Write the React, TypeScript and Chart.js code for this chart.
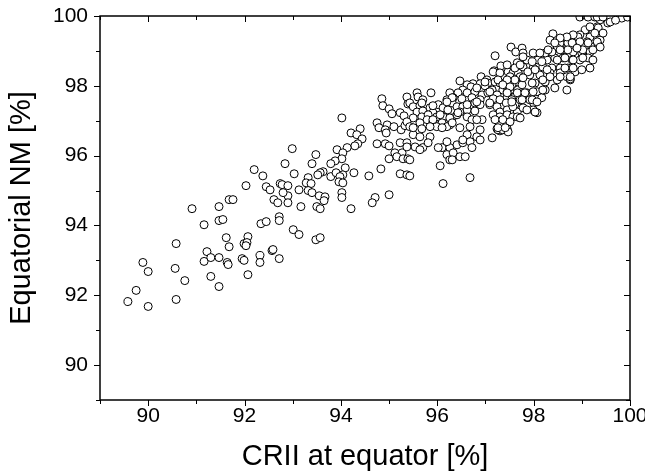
import { useEffect, useRef } from 'react';
import { Chart, registerables } from 'chart.js';

Chart.register(...registerables);

const X_MIN = 89;
const X_MAX = 100;
const Y_MIN = 89;
const Y_MAX = 100;
const xTickLabels = ['90', '92', '94', '96', '98', '100'];
const yTickLabels = ['90', '92', '94', '96', '98', '100'];
const xTitle = 'CRII at equator [%]';
const yTitle = 'Equatorial NM [%]';

// [CRII at equator %, Equatorial NM %]
const pointsLow: [number, number][] = [
  [89.58, 91.82], [89.75, 92.14], [89.89, 92.94], [90.0, 92.68], [90.0, 91.68], [90.56, 92.77], [90.58, 91.88], [90.76, 92.42], [90.58, 93.48], [90.91, 94.48],
  [91.16, 92.97], [91.22, 93.25], [91.30, 93.08], [91.47, 93.08], [91.64, 92.94], [91.66, 92.88], [91.95, 93.05], [91.99, 93.0], [92.32, 93.14], [92.32, 92.94],
  [92.57, 93.28], [92.59, 93.31], [92.72, 93.05], [91.30, 92.54], [91.47, 92.25], [92.07, 92.59],
  [91.62, 93.65], [91.68, 93.39], [92.07, 93.68], [91.99, 93.48], [92.05, 93.51], [92.03, 93.42],
  [91.16, 94.02], [91.47, 94.14], [91.55, 94.17], [92.34, 94.05], [92.45, 94.11], [92.72, 94.25], [92.72, 94.14],
  [91.47, 94.54], [91.68, 94.74], [91.76, 94.74], [92.61, 94.74], [92.20, 95.60], [92.38, 95.42], [92.03, 95.14], [92.45, 95.11], [92.53, 95.02], [92.74, 95.20],
];

const pointsMid: [number, number][] = [
  [94.85, 97.63], [94.87, 97.43], [95.37, 97.68], [95.39, 97.48], [95.00, 97.34], [95.06, 97.20], [95.23, 97.23], [95.31, 97.14], [94.75, 96.94], [94.96, 96.88],
  [95.10, 96.83], [95.25, 96.74], [95.33, 96.86], [94.79, 96.80], [94.92, 96.74], [94.94, 96.65], [95.23, 96.37], [94.75, 96.34], [94.92, 96.34], [95.00, 96.28],
  [95.12, 96.08], [95.27, 96.08], [95.16, 95.97], [95.29, 95.91], [95.00, 95.91], [95.39, 95.91], [94.83, 95.62], [95.23, 95.48], [95.37, 95.45], [95.00, 94.88],
  [94.71, 94.80], [94.65, 94.65], [94.58, 95.42],
  [94.02, 97.08], [94.21, 96.65], [94.40, 96.77], [94.33, 96.60], [94.44, 96.48], [94.35, 96.34], [94.29, 96.28], [94.13, 96.23], [93.92, 96.17], [94.04, 96.08],
  [94.02, 95.91], [93.88, 95.85], [93.79, 95.77], [93.48, 96.03], [93.40, 95.77], [92.99, 96.20], [92.84, 95.77], [93.03, 95.48], [93.63, 95.54], [93.57, 95.51],
  [93.52, 95.45], [93.79, 95.40], [93.90, 95.51], [94.09, 95.65], [94.04, 95.45], [93.98, 95.40], [94.27, 95.51], [93.96, 95.25], [94.04, 95.22], [93.32, 95.37],
  [93.28, 95.22], [93.38, 95.20], [93.13, 95.02], [93.32, 95.00], [93.40, 94.94], [93.55, 94.85], [93.67, 94.82], [93.65, 94.71], [94.02, 94.94], [94.02, 94.80],
  [94.21, 94.48], [93.50, 94.54], [93.57, 94.48], [93.17, 94.54], [92.90, 94.85], [92.90, 94.65], [92.80, 94.94], [92.78, 95.17], [92.90, 95.14], [92.69, 94.65],
  [93.01, 93.88], [93.13, 93.74], [93.48, 93.59], [93.57, 93.65],
];

const pointsUpper: [number, number][] = [
  [97.53, 99.11], [97.63, 98.97], [97.20, 98.86],
  [97.66, 98.66], [97.32, 98.57], [97.18, 98.43], [97.16, 98.40], [97.30, 98.37], [97.47, 98.40], [97.57, 98.37], [97.68, 98.37], [96.91, 98.26], [96.47, 98.14],
  [97.03, 98.17], [96.74, 98.06], [96.89, 98.06], [97.05, 98.08], [97.20, 98.11], [97.30, 98.08], [97.43, 98.11], [97.55, 98.08], [97.66, 98.11], [96.62, 98.03],
  [96.70, 97.97], [96.99, 98.00], [97.14, 97.88], [97.36, 97.88], [97.51, 97.88], [97.66, 97.88], [96.53, 97.88],
  [95.58, 97.80], [95.60, 97.68], [95.87, 97.80], [96.26, 97.80], [96.43, 97.80], [96.62, 97.80], [96.78, 97.83], [96.93, 97.74], [97.05, 97.80], [97.24, 97.74],
  [97.45, 97.68], [97.61, 97.68], [95.70, 97.60], [96.20, 97.60], [96.33, 97.66], [96.51, 97.63], [96.72, 97.66], [96.89, 97.60], [97.16, 97.63], [97.30, 97.60], [97.55, 97.60],
  [95.43, 97.51], [95.50, 97.40], [95.64, 97.43], [95.85, 97.37], [96.02, 97.46], [96.12, 97.37], [96.31, 97.51], [96.41, 97.40], [96.53, 97.40], [96.72, 97.46],
  [96.89, 97.46], [97.09, 97.46], [97.24, 97.40], [97.43, 97.51], [97.61, 97.46], [95.58, 97.25], [95.70, 97.28], [95.91, 97.23], [96.22, 97.31], [96.47, 97.25],
  [96.62, 97.31], [96.78, 97.28], [97.30, 97.25], [97.45, 97.31], [97.66, 97.25],
  [95.50, 97.08], [95.68, 97.11], [95.81, 97.17], [95.99, 97.11], [96.12, 97.11], [96.31, 97.08], [96.41, 97.17], [96.62, 97.11], [97.16, 97.17], [97.30, 97.11],
  [97.45, 97.17], [97.57, 97.11], [95.37, 96.97], [95.64, 96.94], [95.79, 97.03], [95.91, 96.97], [96.10, 96.94], [96.26, 96.88], [96.72, 97.03], [96.93, 97.03],
  [97.20, 97.03], [97.36, 97.03], [97.51, 96.97],
  [95.43, 96.83], [95.68, 96.77], [95.99, 96.83], [96.20, 96.83], [96.47, 96.80], [96.68, 96.83], [96.89, 96.74], [97.24, 96.77], [97.30, 96.71], [97.45, 96.77],
  [95.50, 96.60], [95.64, 96.54], [95.85, 96.54], [96.62, 96.60], [96.82, 96.54], [97.14, 96.51],
  [95.37, 96.37], [95.54, 96.25], [95.70, 96.23], [96.10, 96.23], [96.26, 96.23], [96.41, 96.31], [96.53, 96.37], [96.68, 96.40], [96.89, 96.45], [96.20, 96.03],
  [96.33, 96.08], [96.72, 96.23], [96.47, 95.97], [96.58, 95.97],
  [95.43, 95.88], [96.06, 95.71], [95.43, 95.42], [96.12, 95.20], [96.68, 95.37],
  [98.0, 97.51], [98.07, 97.23], [97.26, 96.74], [97.36, 96.74], [97.47, 96.68], [96.26, 95.88], [95.81, 96.37], [95.64, 96.17], [96.31, 95.88],
  [95.68, 97.51], [95.91, 97.43], [96.31, 97.66], [96.20, 97.54], [96.82, 97.94], [96.62, 97.46], [96.78, 97.51], [96.43, 97.23], [96.26, 97.08], [96.06, 97.17],
  [95.91, 97.03], [95.50, 96.80], [95.85, 96.83], [96.10, 96.80], [96.31, 96.94], [96.82, 97.03], [96.53, 96.45], [96.20, 96.40], [96.02, 96.23], [95.37, 96.25],
];

const pointsTop: [number, number][] = [
  [99.13, 99.97], [99.27, 99.97], [99.38, 99.89], [99.54, 99.80], [99.32, 99.69], [99.23, 99.54], [99.07, 99.60], [98.96, 99.46], [99.17, 99.40], [99.38, 99.46],
  [99.38, 99.31], [99.11, 99.26], [98.90, 99.31], [98.80, 99.40], [98.40, 99.49], [98.34, 99.31], [98.55, 99.23], [98.71, 99.23], [99.00, 99.17], [99.21, 99.11],
  [99.34, 99.17], [99.17, 98.97], [99.00, 98.94], [98.82, 98.97], [98.65, 99.03], [98.49, 99.08], [98.28, 98.97], [97.99, 98.94], [97.76, 99.08], [97.78, 98.94],
  [97.86, 98.74], [98.09, 98.74], [98.28, 98.74], [98.44, 98.80], [98.61, 98.80], [98.80, 98.74], [98.96, 98.74], [99.13, 98.80], [99.23, 98.74], [97.45, 98.60],
  [97.61, 98.51], [97.78, 98.54], [97.99, 98.51], [98.19, 98.54], [98.38, 98.51], [98.55, 98.51], [98.71, 98.51], [98.86, 98.40], [99.00, 98.46], [97.51, 98.26],
  [97.72, 98.26], [97.92, 98.31], [98.13, 98.31], [98.34, 98.37], [98.55, 98.37], [98.69, 98.26], [98.76, 98.17], [98.49, 98.17], [98.24, 98.11], [98.03, 98.08],
  [97.76, 98.03], [97.55, 98.03], [97.45, 97.83], [97.66, 97.80], [97.86, 97.80], [98.07, 97.83], [98.17, 97.66], [97.92, 97.60], [97.72, 97.60], [97.57, 97.40],
  [97.78, 97.37], [97.99, 97.31], [97.66, 97.11], [97.72, 97.08],
  [98.69, 97.88], [98.44, 97.94], [98.76, 98.20], [98.24, 97.88],
  [98.96, 99.97], [99.32, 99.97], [99.44, 99.97], [99.59, 99.83], [99.83, 99.94], [99.17, 99.69], [99.34, 99.66], [99.44, 99.51], [99.27, 99.51], [98.92, 99.40],
  [98.82, 99.46], [98.69, 99.40], [98.55, 99.37], [98.44, 99.23], [98.80, 99.23], [98.96, 99.26], [99.13, 99.23], [99.32, 99.26], [99.38, 99.11], [99.23, 99.03],
  [99.02, 99.03], [98.90, 99.08], [98.71, 99.03], [98.55, 99.03], [98.38, 98.97], [98.24, 98.94], [98.49, 98.74], [98.65, 98.80], [98.82, 98.74], [99.02, 98.80],
  [99.17, 98.51], [98.82, 98.51], [98.65, 98.51], [98.28, 98.46], [98.34, 98.26], [98.55, 98.26], [98.76, 98.26], [98.19, 98.17],
  [97.78, 98.83], [98.13, 98.94], [98.30, 99.03], [97.97, 98.69], [98.17, 98.69], [97.72, 98.60], [97.88, 98.40], [98.03, 98.46], [97.78, 98.23], [97.61, 98.17],
  [97.45, 98.17], [97.26, 98.17], [96.99, 98.11], [97.09, 97.83], [97.36, 98.03], [97.51, 97.97], [97.97, 98.08], [97.99, 97.83], [98.19, 97.88], [97.82, 97.80],
  [97.45, 97.80], [96.82, 97.54], [97.09, 97.51], [97.55, 97.54], [97.76, 97.60], [97.97, 97.60], [98.07, 97.54], [97.86, 97.31], [98.03, 97.25], [97.26, 96.80],
  [97.41, 96.80], [99.95, 99.97], [99.70, 99.88],
];

const FONT = '"Liberation Sans", Arial, Helvetica, sans-serif';

const framePlugin = {
  id: 'frameTicks',
  afterDraw(chart: any) {
    const { ctx, chartArea, scales } = chart;
    const { left, right, top, bottom } = chartArea;
    const xs = scales.x;
    const ys = scales.y;
    ctx.save();
    ctx.strokeStyle = '#000';
    ctx.lineWidth = 1;
    ctx.beginPath();
    for (let v = X_MIN; v <= X_MAX; v++) {
      const p = Math.round(xs.getPixelForValue(v)) + 0.5;
      const len = xTickLabels.includes(String(v)) ? 6 : 4;
      ctx.moveTo(p, bottom);
      ctx.lineTo(p, bottom + len);
      ctx.moveTo(p, top);
      ctx.lineTo(p, top + len);
    }
    for (let v = Y_MIN; v <= Y_MAX; v++) {
      const p = Math.round(ys.getPixelForValue(v)) + 0.5;
      const len = yTickLabels.includes(String(v)) ? 6 : 4;
      ctx.moveTo(left, p);
      ctx.lineTo(left - len, p);
      ctx.moveTo(right, p);
      ctx.lineTo(right - len, p);
    }
    ctx.stroke();
    ctx.lineWidth = 1.5;
    ctx.strokeRect(left, top, right - left, bottom - top);
    ctx.restore();
  },
};

export default function App() {
  const ref = useRef<HTMLCanvasElement>(null);
  useEffect(() => {
    const all = [...pointsLow, ...pointsMid, ...pointsUpper, ...pointsTop].map(([x, y]) => ({ x, y }));
    const chart = new Chart(ref.current as HTMLCanvasElement, {
      type: 'scatter',
      data: {
        datasets: [
          {
            data: all,
            pointRadius: 4,
            pointBorderWidth: 1,
            pointBorderColor: '#000',
            pointBackgroundColor: '#fff',
            borderColor: '#000',
            backgroundColor: '#fff',
            clip: 0,
          } as any,
        ],
      },
      options: {
        animation: false,
        responsive: false,
        devicePixelRatio: 1,
        layout: { padding: { top: 16, right: 15, left: 0, bottom: 0 } },
        plugins: { legend: { display: false }, tooltip: { enabled: false } },
        scales: {
          x: {
            type: 'linear',
            position: 'bottom',
            min: X_MIN,
            max: X_MAX,
            grid: { display: false, drawTicks: false },
            border: { display: false },
            ticks: {
              stepSize: 1,
              autoSkip: false,
              maxRotation: 0,
              padding: 4,
              color: '#000',
              font: { family: FONT, size: 21 },
              callback: (v: any) => (xTickLabels.includes(String(v)) ? String(v) : ''),
            },
            title: {
              display: true,
              text: xTitle,
              color: '#000',
              font: { family: FONT, size: 29 },
              padding: { top: 0, bottom: 1 },
            },
            afterFit: (s: any) => {
              s.height = 75;
              s.paddingLeft = 0;
              s.paddingRight = 0;
            },
          },
          y: {
            type: 'linear',
            min: Y_MIN,
            max: Y_MAX,
            grid: { display: false, drawTicks: false },
            border: { display: false },
            ticks: {
              stepSize: 1,
              autoSkip: false,
              padding: 12,
              color: '#000',
              font: { family: FONT, size: 21 },
              callback: (v: any) => (yTickLabels.includes(String(v)) ? String(v) : ''),
            },
            title: {
              display: true,
              text: yTitle,
              color: '#000',
              font: { family: FONT, size: 29 },
              padding: { top: 5, bottom: 0 },
            },
            afterFit: (s: any) => {
              s.width = 100;
              s.paddingTop = 0;
              s.paddingBottom = 0;
            },
          },
        },
      },
      plugins: [framePlugin],
    } as any);
    return () => chart.destroy();
  }, []);
  return (
    <div style={{ position: 'absolute', left: 0, top: 0, width: 645, height: 475, background: '#fff' }}>
      <canvas ref={ref} width={645} height={475} style={{ display: 'block', width: 645, height: 475 }} />
    </div>
  );
}
